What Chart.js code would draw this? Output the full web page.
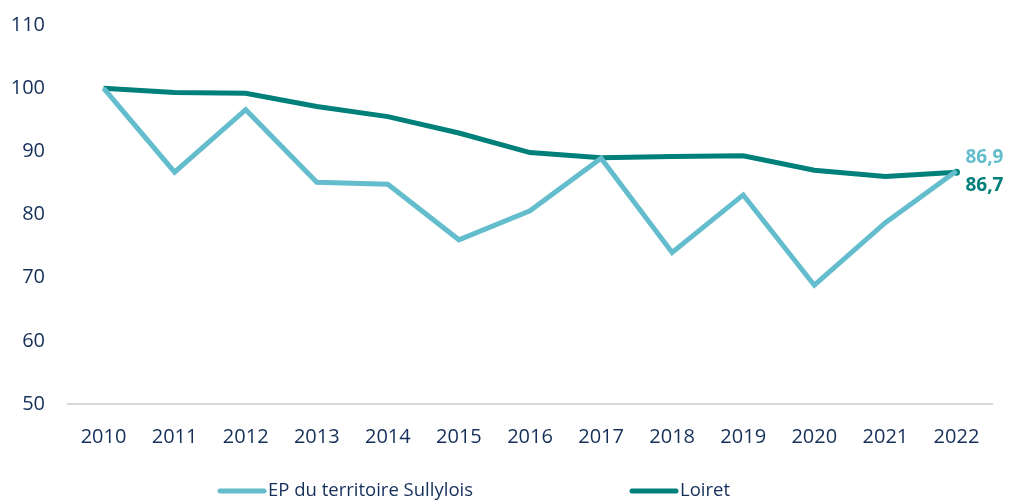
<!DOCTYPE html>
<html>
<head>
<meta charset="utf-8">
<script src="https://cdn.jsdelivr.net/npm/chart.js@4"></script>
<style>
  html, body { margin: 0; padding: 0; background: #fff; }
  #wrap { width: 1011px; height: 501px; }
</style>
</head>
<body>
<div id="wrap"><canvas id="chart" width="1011" height="501"></canvas></div>
<script>
const years = ["2010", "2011", "2012", "2013", "2014", "2015", "2016", "2017", "2018", "2019", "2020", "2021", "2022"];
const epSullylois = [100, 86.7, 96.6, 85.1, 84.8, 76.0, 80.6, 88.9, 74.0, 83.1, 68.8, 78.7, 86.9];
const loiret = [100, 99.3, 99.2, 97.1, 95.5, 92.9, 89.8, 89.0, 89.2, 89.3, 87.0, 86.0, 86.7];
const seriesNames = ["EP du territoire Sullylois", "Loiret"];
const yTicks = [50, 60, 70, 80, 90, 100, 110];

const lightBlue = "#64BDCD";
const teal = "#00807A";
const navy = "#152F5A";
const fontFamily = "'Open Sans', sans-serif";

//Labels next to the last point of each line
const endLabels = {
  id: "endLabels",
  afterDatasetsDraw(chart) {
    const ctx = chart.ctx;
    ctx.save();
    ctx.font = "bold 19px " + fontFamily;
    ctx.textAlign = "left";
    ctx.textBaseline = "middle";
    const offsets = [-13, 13];
    chart.data.datasets.forEach((ds, i) => {
      const meta = chart.getDatasetMeta(i);
      const pt = meta.data[meta.data.length - 1];
      const val = ds.data[ds.data.length - 1];
      ctx.fillStyle = ds.borderColor;
      ctx.fillText(val.toFixed(1).replace(".", ","), pt.x + 9, pt.y + offsets[i]);
    });
    ctx.restore();
  },
};

//Legend drawn at the bottom, items far apart
const bottomLegend = {
  id: "bottomLegend",
  afterDraw(chart) {
    const ctx = chart.ctx;
    ctx.save();
    ctx.font = "18.5px " + fontFamily;
    ctx.textBaseline = "middle";
    const starts = [218, 630];
    const y = 491;
    chart.data.datasets.forEach((ds, i) => {
      ctx.strokeStyle = ds.borderColor;
      ctx.lineWidth = 5;
      ctx.lineCap = "round";
      ctx.beginPath();
      ctx.moveTo(starts[i] + 2, y);
      ctx.lineTo(starts[i] + 46, y);
      ctx.stroke();
      ctx.fillStyle = navy;
      ctx.fillText(ds.label, starts[i] + 50, y);
    });
    ctx.restore();
  },
};

const config = {
  type: "line",
  data: {
    labels: years,
    datasets: [
      {
        label: seriesNames[0],
        data: epSullylois,
        borderColor: lightBlue,
        backgroundColor: lightBlue,
        borderWidth: 5,
        pointRadius: 0,
        tension: 0,
        order: 0,
      },
      {
        label: seriesNames[1],
        data: loiret,
        borderColor: teal,
        backgroundColor: teal,
        borderWidth: 5,
        pointRadius: (c) => (c.dataIndex === loiret.length - 1 ? 3.5 : 0),
        pointBorderWidth: 0,
        tension: 0,
        order: 1,
      },
    ],
  },
  options: {
    responsive: false,
    animation: false,
    layout: {
      padding: { top: 25, right: 19, bottom: 41, left: 0 },
    },
    plugins: {
      legend: { display: false },
      tooltip: { enabled: false },
    },
    scales: {
      x: {
        offset: true,
        grid: { display: false, drawTicks: false },
        border: { display: true, color: "#D9D9D9", width: 2 },
        ticks: {
          color: navy,
          font: { family: fontFamily, size: 20 },
          padding: 21,
          maxRotation: 0,
        },
        afterFit: (s) => {
          s.height = 56;
          s.paddingLeft = 0;
          s.paddingRight = 0;
        },
      },
      y: {
        min: 50,
        max: 110,
        grid: { display: false, drawTicks: false },
        border: { display: false },
        afterBuildTicks: (s) => { s.ticks = yTicks.map((v) => ({ value: v })); },
        ticks: {
          color: navy,
          font: { family: fontFamily, size: 20 },
          padding: 23,
        },
        afterFit: (s) => {
          s.width = 68;
          s.paddingTop = 0;
          s.paddingBottom = 0;
        },
      },
    },
  },
  plugins: [endLabels, bottomLegend],
};

new Chart(document.getElementById("chart").getContext("2d"), config);
</script>
</body>
</html>
